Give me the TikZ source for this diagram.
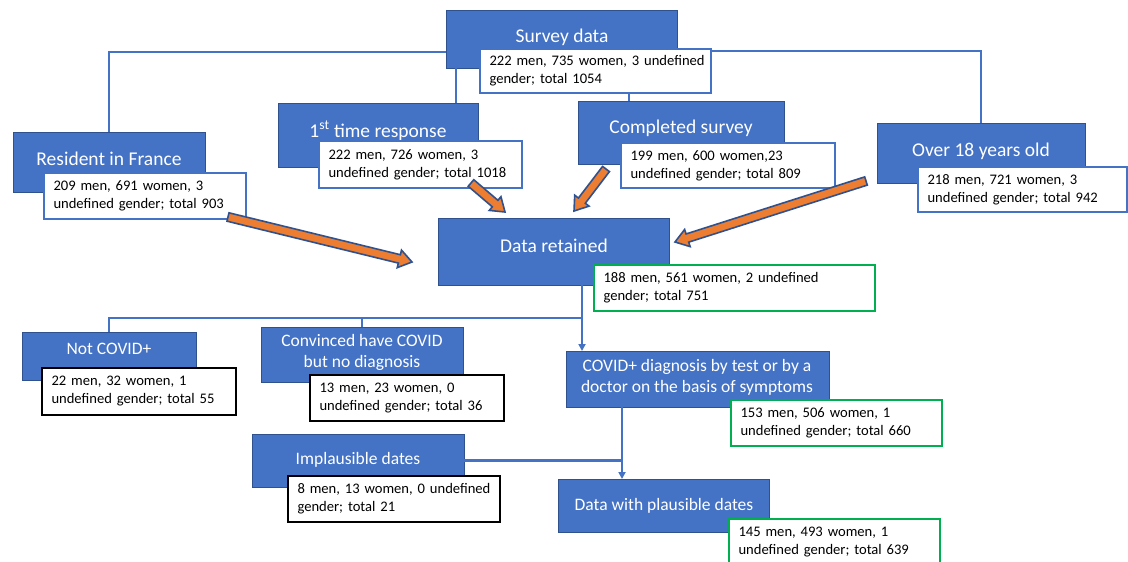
\documentclass[tikz,border=0pt]{standalone}
\usepackage{fontspec}
\setmainfont{Carlito}
\usetikzlibrary{calc,arrows.meta}
\definecolor{bfill}{HTML}{4472C4}
\definecolor{bdark}{HTML}{2F528F}
\definecolor{gbord}{HTML}{00B050}
\definecolor{orng}{HTML}{ED7D31}
\newcommand{\blockarrow}[2]{%
  \coordinate (#1hb) at ($(#2)!13pt!(#1)$);
  \draw[draw=bdark, fill=orng, line width=1.6pt, line join=miter]
    ($(#1)!4.3pt!90:(#2)$) -- ($(#1hb)!4.3pt!90:(#2)$) -- ($(#1hb)!9pt!90:(#2)$) --
    (#2) -- ($(#1hb)!9pt!-90:(#2)$) -- ($(#1hb)!4.3pt!-90:(#2)$) --
    ($(#1)!4.3pt!-90:(#2)$) -- cycle;}
\begin{document}
\begin{tikzpicture}[x=1pt,y=-1pt,
  bbox/.style={draw=bdark, fill=bfill, line width=0.8pt, anchor=north west, inner sep=0pt, outer sep=0pt},
  wbox/.style={draw=bfill, fill=white, line width=1.6pt, anchor=north west, inner xsep=9.5pt, inner ysep=0pt, outer sep=0pt, align=left, font=\fontsize{14.6}{18}\selectfont},
  gbox/.style={wbox, draw=gbord, line width=2pt},
  kbox/.style={wbox, draw=black, line width=2.4pt},
  ttl/.style={text=white, font=\fontsize{19.5}{23}\selectfont, align=center, inner sep=0pt},
  ttls/.style={ttl, font=\fontsize{17.5}{21}\selectfont},
  conn/.style={draw=bfill, line width=2.2pt},
  carr/.style={conn, -{Triangle[length=7pt,width=7pt]}}
]
\useasboundingbox (0,0) rectangle (1128,562);
\fill[white] (0,0) rectangle (1128,562);

% blue boxes
\node[bbox, minimum width=231pt, minimum height=58pt] (survey) at (446,10) {};
\node[bbox, minimum width=192pt, minimum height=60pt] (res) at (13,132) {};
\node[bbox, minimum width=200pt, minimum height=64pt] (first) at (278,103) {};
\node[bbox, minimum width=206pt, minimum height=63pt] (comp) at (578,101) {};
\node[bbox, minimum width=208pt, minimum height=60pt] (over) at (877,123) {};
\node[bbox, minimum width=231pt, minimum height=67pt] (dr) at (438,218) {};
\node[bbox, minimum width=174pt, minimum height=48pt] (notc) at (22,332) {};
\node[bbox, minimum width=202pt, minimum height=55pt] (conv) at (261,327) {};
\node[bbox, minimum width=263pt, minimum height=56pt] (diag) at (566,351) {};
\node[bbox, minimum width=212pt, minimum height=53pt] (impl) at (252,434) {};
\node[bbox, minimum width=211pt, minimum height=53pt] (dp) at (558,479) {};

% titles
\node[ttl] (surveyT) at (562,37) {Survey data};
\node[ttl] (resT) at (109,159) {Resident in France};
\node[ttl] (firstT) at (378,131) {1\textsuperscript{st} time response};
\node[ttl] (compT) at (681,128) {Completed survey};
\node[ttl] (overT) at (981,151) {Over 18 years old};
\node[ttl] (drT) at (554,246) {Data retained};
\node[ttls] (notcT) at (109,349) {Not COVID+};
\node[ttls] (convT) at (362,352.5) {Convinced have COVID\\but no diagnosis};
\node[ttls] (diagT) at (697,377.5) {COVID+ diagnosis by test or by a\\doctor on the basis of symptoms};
\node[ttls] (implT) at (358,460) {Implausible dates};
\node[ttls] (dpT) at (664,506) {Data with plausible dates};

% white boxes
\node[wbox, text width=212pt, minimum height=44pt] (surveyW) at (480,49) {\mbox{222 men, 735 women, 3 undefined}\\\mbox{gender; total 1054}};
\node[wbox, text width=183pt, minimum height=46pt] (resW) at (44,173) {\mbox{209 men, 691 women, 3}\\\mbox{undefined gender; total 903}};
\node[wbox, text width=184pt, minimum height=47pt] (firstW) at (319,141) {\mbox{222 men, 726 women, 3}\\\mbox{undefined gender; total 1018}};
\node[wbox, text width=195pt, minimum height=45pt] (compW) at (621,143) {\mbox{199 men, 600 women,23}\\\mbox{undefined gender; total 809}};
\node[wbox, text width=190pt, minimum height=45pt] (overW) at (918,167) {\mbox{218 men, 721 women, 3}\\\mbox{undefined gender; total 942}};
\node[gbox, text width=262pt, minimum height=46pt] (drW) at (594,265) {\mbox{188 men, 561 women, 2 undefined}\\\mbox{gender; total 751}};
\node[kbox, text width=175pt, minimum height=47pt] (notcW) at (42,368) {\mbox{22 men, 32 women, 1}\\\mbox{undefined gender; total 55}};
\node[kbox, text width=175pt, minimum height=46pt] (convW) at (310,375) {\mbox{13 men, 23 women, 0}\\\mbox{undefined gender; total 36}};
\node[gbox, text width=192pt, minimum height=46pt] (diagW) at (731,400) {\mbox{153 men, 506 women, 1}\\\mbox{undefined gender; total 660}};
\node[kbox, text width=193pt, minimum height=46pt] (implW) at (288,476) {\mbox{8 men, 13 women, 0 undefined}\\\mbox{gender; total 21}};
\node[gbox, text width=192pt, minimum height=46pt] (dpW) at (729,519) {\mbox{145 men, 493 women, 1}\\\mbox{undefined gender; total 639}};

% connectors
\draw[conn] ([yshift=-13pt]survey.west) -| (res.north);
\draw[conn] ([yshift=20pt]surveyW.east) -| (over.north);
\coordinate (sv1) at ([xshift=10pt]survey.south west);
\draw[conn] (sv1) -- (sv1 |- first.north);
\coordinate (sw1) at ([xshift=149pt]surveyW.south west);
\draw[conn] (sw1) -- (sw1 |- comp.north);
\coordinate (dr1) at ([xshift=144pt]dr.south west);
\draw[carr] (dr1) -- (dr1 |- diag.north);
\coordinate (j1) at (dr1 |- 0,318);
\draw[conn] (notc.north) |- (j1);
\draw[conn] (conv.north) -- (conv.north |- j1);
\coordinate (dg1) at ([xshift=56pt]diag.south west);
\draw[carr] (dg1) -- (dg1 |- dp.north);
\draw[conn] (impl.east) -- (impl.east -| dg1);

% orange block arrows
\coordinate (a1s) at (228,217); \coordinate (a1e) at (412,262);
\coordinate (a2s) at (471,183); \coordinate (a2e) at (505,212);
\coordinate (a3s) at (606,169); \coordinate (a3e) at (574,211);
\coordinate (a4s) at (866,181); \coordinate (a4e) at (675,242);
\blockarrow{a1s}{a1e}
\blockarrow{a2s}{a2e}
\blockarrow{a3s}{a3e}
\blockarrow{a4s}{a4e}
\end{tikzpicture}
\end{document}
